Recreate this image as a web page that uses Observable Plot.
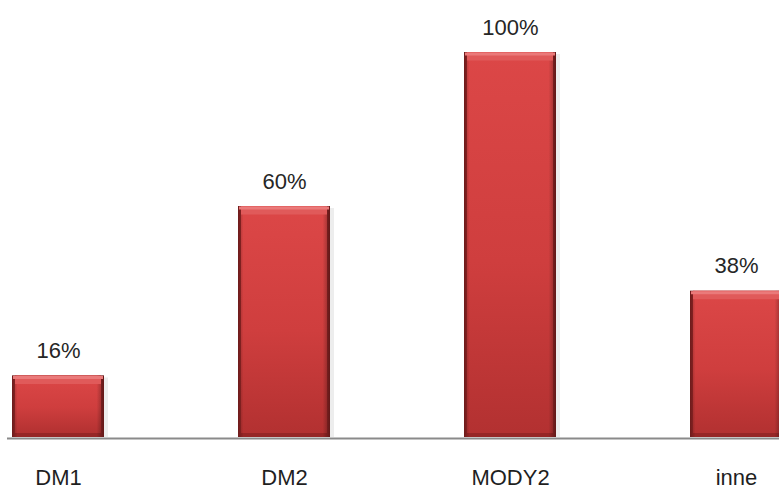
<!DOCTYPE html>
<html>
<head>
<meta charset="utf-8">
<script src="https://cdn.jsdelivr.net/npm/d3@7"></script>
<script src="https://cdn.jsdelivr.net/npm/@observablehq/plot@0.6"></script>
<style>
  html, body { margin: 0; padding: 0; background: #ffffff; overflow: hidden; }
  #chart svg { display: block; }
</style>
</head>
<body>
<div id="chart"></div>
<script>
// Share of cases per diabetes type
const categories = ["DM1", "DM2", "MODY2", "inne"];
const values = [16, 60, 100, 38];
const valueLabels = ["16%", "60%", "100%", "38%"];

const data = categories.map((category, i) => ({
  category,
  value: values[i],
  label: valueLabels[i]
}));

// Gradients used for the bevelled bars
function gradients() {
  const defs = d3.create("svg:defs");
  const body = defs.append("linearGradient")
    .attr("id", "barBody")
    .attr("x1", 0).attr("y1", 0).attr("x2", 0).attr("y2", 1);
  body.append("stop").attr("offset", "0%").attr("stop-color", "#dc4747");
  body.append("stop").attr("offset", "55%").attr("stop-color", "#cf3e3e");
  body.append("stop").attr("offset", "100%").attr("stop-color", "#b33131");
  const side = defs.append("linearGradient")
    .attr("id", "barSide")
    .attr("x1", 0).attr("y1", 0).attr("x2", 1).attr("y2", 0);
  side.append("stop").attr("offset", "0%").attr("stop-color", "#000").attr("stop-opacity", 0.28);
  side.append("stop").attr("offset", "6%").attr("stop-color", "#000").attr("stop-opacity", 0);
  side.append("stop").attr("offset", "92%").attr("stop-color", "#000").attr("stop-opacity", 0);
  side.append("stop").attr("offset", "100%").attr("stop-color", "#000").attr("stop-opacity", 0.35);
  return defs.node();
}

const chart = Plot.plot({
  width: 779,
  height: 490,
  marginTop: 52,
  marginBottom: 53,
  marginLeft: 7,
  marginRight: 0,
  x: { domain: categories, range: [12, 782], paddingInner: 0.593, paddingOuter: 0, label: null },
  y: { domain: [0, 100], axis: null },
  style: {
    fontFamily: "'Liberation Sans', Arial, sans-serif",
    fontSize: "22px",
    color: "#1f1f1f",
    background: "#ffffff",
    overflow: "hidden"
  },
  marks: [
    gradients,
    // soft drop shadow on the right
    Plot.barY(data, { x: "category", y: "value", fill: "#000", fillOpacity: 0.07, insetLeft: 3, insetRight: -4, insetTop: 2 }),
    // dark rim
    Plot.barY(data, { x: "category", y: "value", fill: "#962626" }),
    // body
    Plot.barY(data, { x: "category", y: "value", fill: "url(#barBody)", insetLeft: 3, insetRight: 3, insetBottom: 4 }),
    // darker vertical edges
    Plot.barY(data, { x: "category", y: "value", fill: "url(#barSide)" }),
    // light top bevel
    Plot.tickY(data, { x: "category", y: "value", stroke: "#e05a5a", strokeWidth: 8, dy: 4, insetLeft: 3, insetRight: 3 }),
    Plot.tickY(data, { x: "category", y: "value", stroke: "#ea7a7a", strokeWidth: 3, dy: 1.5, insetLeft: 1, insetRight: 1 }),
    // baseline
    Plot.ruleY([0], { stroke: "#8a8a8a", strokeWidth: 2, dy: 1 }),
    // value labels
    Plot.text(data, { x: "category", y: "value", text: "label", dy: -18, lineAnchor: "bottom", fontSize: 22, fill: "#262626" }),
    Plot.axisX({ tickSize: 0, tickPadding: 32, fontSize: 22, label: null })
  ]
});

document.getElementById("chart").appendChild(chart);
</script>
</body>
</html>
